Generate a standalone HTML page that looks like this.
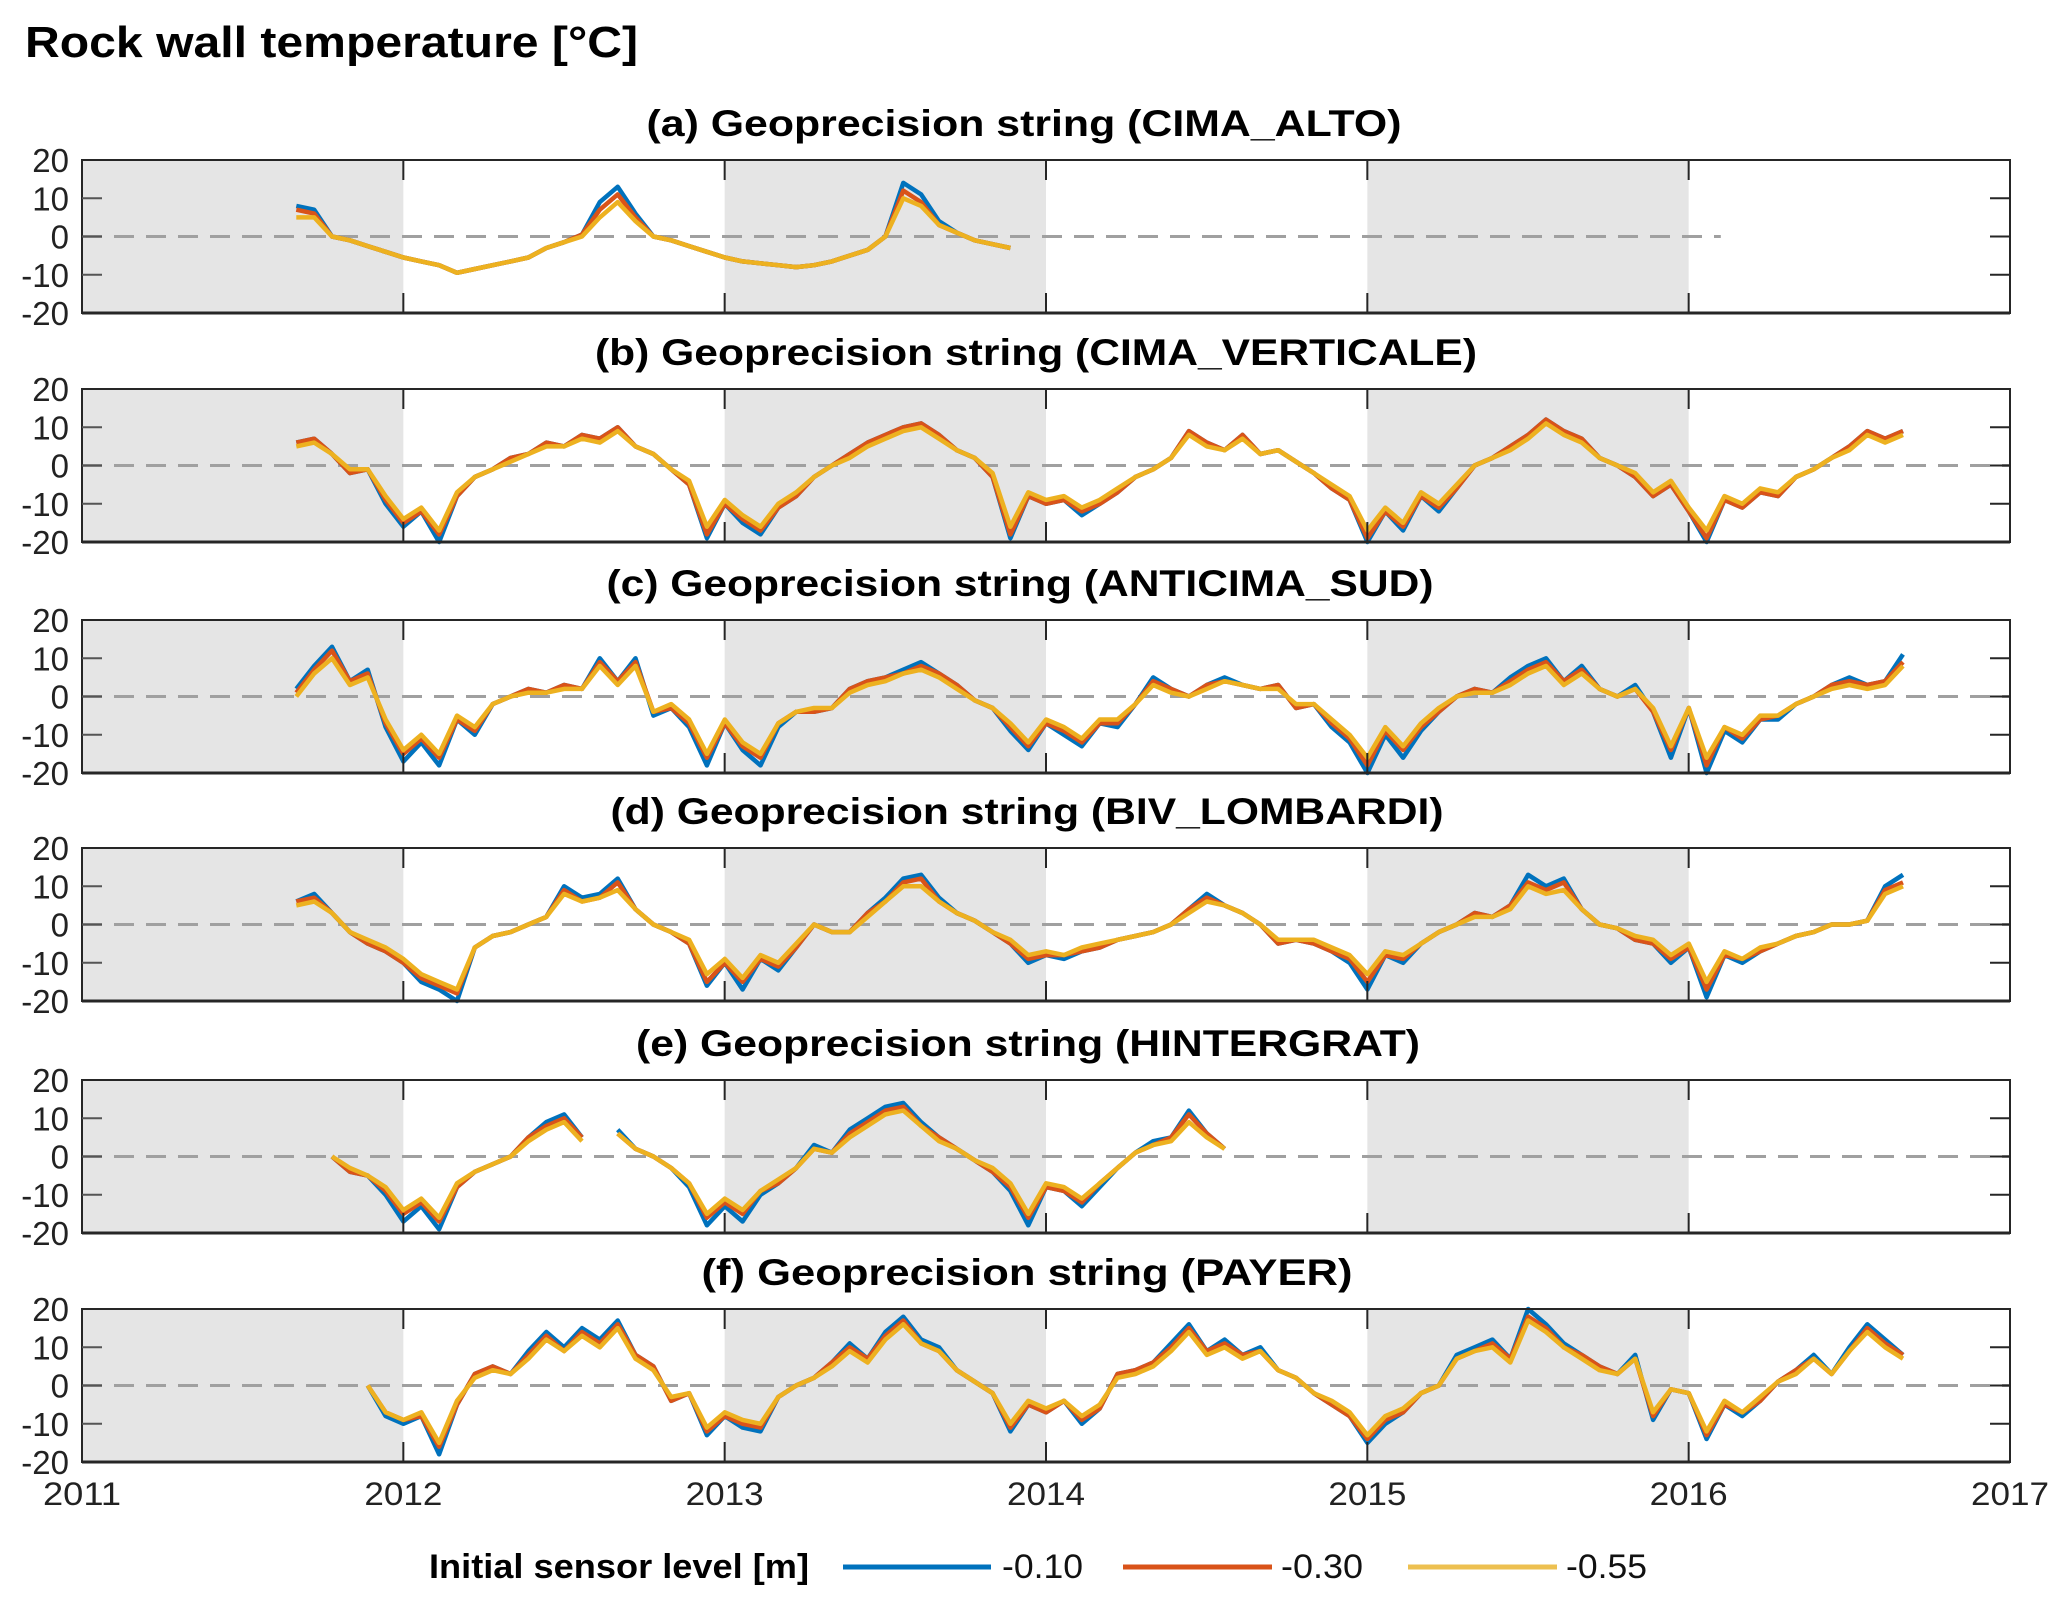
<!DOCTYPE html>
<html><head><meta charset="utf-8"><style>
html,body{margin:0;padding:0;background:#fff;}
svg{display:block;font-family:"Liberation Sans",Arial,sans-serif;}
</style></head><body>
<svg id="chart" width="2067" height="1599" viewBox="0 0 2067 1599" xmlns="http://www.w3.org/2000/svg">
<text x="25" y="57" font-size="44" font-weight="bold" textLength="613" lengthAdjust="spacingAndGlyphs" fill="#000">Rock wall temperature [°C]</text>
<g id="panels"></g>
<g id="xlabels"></g>
<g>
<text x="429" y="1578" font-size="34" font-weight="bold" textLength="380" lengthAdjust="spacingAndGlyphs">Initial sensor level [m]</text>
<line x1="843" y1="1567" x2="991" y2="1567" stroke="#0072BD" stroke-width="5"/>
<text x="1002" y="1578" font-size="34" textLength="81" lengthAdjust="spacingAndGlyphs" fill="#111">-0.10</text>
<line x1="1123" y1="1567" x2="1272" y2="1567" stroke="#D95319" stroke-width="5"/>
<text x="1281" y="1578" font-size="34" textLength="82" lengthAdjust="spacingAndGlyphs" fill="#111">-0.30</text>
<line x1="1408" y1="1567" x2="1557" y2="1567" stroke="#EDC050" stroke-width="5"/>
<text x="1566" y="1578" font-size="34" textLength="81" lengthAdjust="spacingAndGlyphs" fill="#111">-0.55</text>
</g>
</svg>
<script>
// ---- data (values in °C, sampled every 1/18 year starting 2011.667) ----
const xTickLabels = ["2011","2012","2013","2014","2015","2016","2017"];
const yTickLabels = ["20","10","0","-10","-20"];
const yTickValues = [20,10,0,-10,-20];
const panelTitles = ["(a) Geoprecision string (CIMA_ALTO)","(b) Geoprecision string (CIMA_VERTICALE)","(c) Geoprecision string (ANTICIMA_SUD)","(d) Geoprecision string (BIV_LOMBARDI)","(e) Geoprecision string (HINTERGRAT)","(f) Geoprecision string (PAYER)"];
const seriesStart = 2011.667;
const seriesStep = 1/18;

const a10 = [8,7,0,-1,-2.5,-4, -5.5,-6.5,-7.5,-9.5,-8.5,-7.5,-6.5,-5.5,-3,-1.5,0.5,9,13,6,0,-1,-2.5,-4, -5.5,-6.5,-7,-7.5,-8,-7.5,-6.5,-5,-3.5,0,14,11,4,1,-1,-2,-3];
const a30 = [7,6,0,-1,-2.5,-4, -5.5,-6.5,-7.5,-9.5,-8.5,-7.5,-6.5,-5.5,-3,-1.5,0.5,7,11,5,0,-1,-2.5,-4, -5.5,-6.5,-7,-7.5,-8,-7.5,-6.5,-5,-3.5,0,12,9,3,1,-1,-2,-3];
const a55 = [5,5,0,-1,-2.5,-4, -5.5,-6.5,-7.5,-9.5,-8.5,-7.5,-6.5,-5.5,-3,-1.5,0,5,9,4,0,-1,-2.5,-4, -5.5,-6.5,-7,-7.5,-8,-7.5,-6.5,-5,-3.5,0,10,8,3,1,-1,-2,-3];

const b10 = [6,7,3,-2,-1,-10,
 -16,-12,-20,-8,-3,-1,2,3,6,5,8,7,10,5,3,-1,-5,-19,
 -10,-15,-18,-11,-8,-3,0,3,6,8,10,11,8,4,2,-3,-19,-8,
 -10,-9,-13,-10,-7,-3,-1,2,9,6,4,8,3,4,1,-2,-6,-9,
 -20,-12,-17,-8,-12,-6,0,2,5,8,12,9,7,2,0,-3,-8,-5,
 -12,-20,-9,-11,-7,-8,-3,-1,2,5,9,7,9];
const b30 = [6,7,3,-2,-1,-9,
 -15,-12,-18,-8,-3,-1,2,3,6,5,8,7,10,5,3,-1,-5,-18,
 -10,-14,-17,-11,-8,-3,0,3,6,8,10,11,8,4,2,-3,-18,-8,
 -10,-9,-12,-10,-7,-3,-1,2,9,6,4,8,3,4,1,-2,-6,-9,
 -19,-12,-16,-8,-11,-6,0,2,5,8,12,9,7,2,0,-3,-8,-5,
 -12,-19,-9,-11,-7,-8,-3,-1,2,5,9,7,9];
const b55 = [5,6,3,-1,-1,-8,
 -14,-11,-17,-7,-3,-1,1,3,5,5,7,6,9,5,3,-1,-4,-16,
 -9,-13,-16,-10,-7,-3,0,2,5,7,9,10,7,4,2,-2,-16,-7,
 -9,-8,-11,-9,-6,-3,-1,2,8,5,4,7,3,4,1,-2,-5,-8,
 -17,-11,-15,-7,-10,-5,0,2,4,7,11,8,6,2,0,-2,-7,-4,
 -11,-17,-8,-10,-6,-7,-3,-1,2,4,8,6,8];

const c10 = [2,8,13,4,7,-8,
 -17,-12,-18,-6,-10,-2,0,2,1,3,2,10,4,10,-5,-3,-8,-18,
 -7,-14,-18,-8,-4,-4,-3,2,4,5,7,9,6,3,-1,-3,-9,-14,
 -7,-10,-13,-7,-8,-2,5,2,0,3,5,3,2,3,-3,-2,-8,-12,
 -20,-10,-16,-9,-4,0,2,1,5,8,10,4,8,2,0,3,-4,-16,
 -3,-20,-9,-12,-6,-6,-2,0,3,5,3,4,11];
const c30 = [1,7,12,4,6,-7,
 -15,-11,-16,-6,-9,-2,0,2,1,3,2,9,4,9,-4,-3,-7,-16,
 -7,-13,-16,-7,-4,-4,-3,2,4,5,6,8,6,3,-1,-3,-8,-13,
 -7,-9,-12,-7,-7,-2,4,2,0,3,4,3,2,3,-3,-2,-7,-11,
 -18,-9,-14,-8,-4,0,2,1,4,7,9,4,7,2,0,2,-4,-14,
 -3,-18,-8,-11,-6,-5,-2,0,3,4,3,4,9];
const c55 = [0,6,10,3,5,-6,
 -14,-10,-15,-5,-8,-2,0,1,1,2,2,8,3,8,-4,-2,-6,-15,
 -6,-12,-15,-7,-4,-3,-3,1,3,4,6,7,5,2,-1,-3,-7,-12,
 -6,-8,-11,-6,-6,-2,3,1,0,2,4,3,2,2,-2,-2,-6,-10,
 -16,-8,-13,-7,-3,0,1,1,3,6,8,3,6,2,0,2,-3,-13,
 -3,-16,-8,-10,-5,-5,-2,0,2,3,2,3,8];

const d10 = [6,8,3,-2,-5,-7,
 -10,-15,-17,-20,-6,-3,-2,0,2,10,7,8,12,4,0,-2,-5,-16,
 -10,-17,-9,-12,-6,0,-2,-2,3,7,12,13,7,3,1,-2,-5,-10,
 -8,-9,-7,-6,-4,-3,-2,0,4,8,5,3,0,-5,-4,-5,-7,-10,
 -17,-8,-10,-5,-2,0,3,2,5,13,10,12,4,0,-1,-4,-5,-10,
 -6,-19,-8,-10,-7,-5,-3,-2,0,0,1,10,13];
const d30 = [6,7,3,-2,-5,-7,
 -10,-14,-16,-18,-6,-3,-2,0,2,9,6,7,11,4,0,-2,-5,-15,
 -10,-15,-9,-11,-6,0,-2,-2,3,6,11,12,6,3,1,-2,-5,-9,
 -8,-8,-7,-6,-4,-3,-2,0,4,7,5,3,0,-5,-4,-5,-7,-9,
 -15,-8,-9,-5,-2,0,3,2,5,11,9,11,4,0,-1,-4,-5,-9,
 -6,-17,-8,-9,-7,-5,-3,-2,0,0,1,9,11];
const d55 = [5,6,3,-2,-4,-6,
 -9,-13,-15,-17,-6,-3,-2,0,2,8,6,7,9,4,0,-2,-4,-13,
 -9,-14,-8,-10,-5,0,-2,-2,2,6,10,10,6,3,1,-2,-4,-8,
 -7,-8,-6,-5,-4,-3,-2,0,3,6,5,3,0,-4,-4,-4,-6,-8,
 -13,-7,-8,-5,-2,0,2,2,4,10,8,9,4,0,-1,-3,-4,-8,
 -5,-15,-7,-9,-6,-5,-3,-2,0,0,1,8,10];

const e10 = [null,null,0,-4,-5,-10,
 -17,-13,-19,-8,-4,-2,0,5,9,11,5,null,7,2,0,-3,-8,-18,
 -13,-17,-10,-7,-3,3,1,7,10,13,14,9,5,2,-1,-4,-9,-18,
 -8,-9,-13,-8,-3,1,4,5,12,6,2];
const e30 = [null,null,0,-4,-5,-9,
 -15,-12,-17,-8,-4,-2,0,5,8,10,5,null,6,2,0,-3,-7,-16,
 -12,-15,-9,-7,-3,2,1,6,9,12,13,8,5,2,-1,-4,-8,-16,
 -8,-9,-12,-7,-3,1,3,5,11,6,2];
const e55 = [null,null,0,-3,-5,-8,
 -14,-11,-16,-7,-4,-2,0,4,7,9,4,null,6,2,0,-3,-7,-15,
 -11,-14,-9,-6,-3,2,1,5,8,11,12,8,4,2,-1,-3,-7,-15,
 -7,-8,-11,-7,-3,1,3,4,9,5,2];

const f10 = [null,null,null,null,0,-8,
 -10,-8,-18,-5,3,5,3,9,14,10,15,12,17,8,5,-4,-2,-13,
 -8,-11,-12,-3,0,2,6,11,7,14,18,12,10,4,1,-2,-12,-5,
 -7,-4,-10,-6,3,4,6,11,16,9,12,8,10,4,2,-2,-5,-8,
 -15,-10,-7,-2,0,8,10,12,7,20,16,11,8,5,3,8,-9,-1,
 -2,-14,-5,-8,-4,1,4,8,3,10,16,12,8];
const f30 = [null,null,null,null,0,-7,
 -9,-8,-16,-5,3,5,3,8,13,9,14,11,16,8,5,-4,-2,-12,
 -8,-10,-11,-3,0,2,6,10,7,13,17,11,9,4,1,-2,-11,-5,
 -7,-4,-9,-6,3,4,6,10,15,9,11,8,9,4,2,-2,-5,-8,
 -14,-9,-7,-2,0,7,9,11,7,18,15,10,8,5,3,7,-8,-1,
 -2,-13,-5,-7,-4,1,4,7,3,9,15,11,8];
const f55 = [null,null,null,null,0,-7,
 -9,-7,-15,-4,2,4,3,7,12,9,13,10,15,7,4,-3,-2,-11,
 -7,-9,-10,-3,0,2,5,9,6,12,16,11,9,4,1,-2,-10,-4,
 -6,-4,-8,-5,2,3,5,9,14,8,10,7,9,4,2,-2,-4,-7,
 -13,-8,-6,-2,0,7,9,10,6,17,14,10,7,4,3,7,-7,-1,
 -2,-12,-4,-7,-3,1,3,7,3,9,14,10,7];

const panelSeries = [[a10,a30,a55],[b10,b30,b55],[c10,c30,c55],[d10,d30,d55],[e10,e30,e55],[f10,f30,f55]];
const zeroLineEnd = [2016.1,2017,2017,2017,2017,2017];

// ---- layout ----
const NS = "http://www.w3.org/2000/svg";
const X0 = 82, X1 = 2010, YEAR0 = 2011, YEAR1 = 2017;
const panelTops = [160,389,620,848,1080,1309];
const PH = 153;
const titleX = [1024,1036,1020,1027,1028,1027];
const titleW = [755,882,827,833,784,651];
const colors = ["#0072BD","#D95319","#EDB120"];
const sNames = ["series-010","series-030","series-055"];
const xScale = t => X0 + (t - YEAR0) / (YEAR1 - YEAR0) * (X1 - X0);
function yScaleFor(top){ return v => top + (20 - v) / 40 * PH; }
function mk(tag, attrs, parent){ const e = document.createElementNS(NS, tag); for (const k in attrs) e.setAttribute(k, attrs[k]); parent.appendChild(e); return e; }

const root = document.getElementById("panels");
panelTops.forEach((top, p) => {
  const y = yScaleFor(top);
  const g = mk("g", {}, root);
  
  
  [2011,2013,2015].forEach(yr => {
    const r = mk("rect", {x: xScale(yr), y: top, width: xScale(yr+1) - xScale(yr), height: PH, fill: "#e5e5e5"}, g);
    
    
  });
  const zl = mk("line", {x1: X0, x2: xScale(zeroLineEnd[p]), y1: y(0), y2: y(0), stroke: "#a0a0a0", "stroke-width": 3, "stroke-dasharray": "20 12"}, g);
  
  
  panelSeries[p].forEach((arr, s) => {
    let d = "", pen = false;
    arr.forEach((v, i) => {
      if (v === null) { pen = false; return; }
      const px = xScale(seriesStart + i * seriesStep), py = y(v);
      d += (pen ? "L" : "M") + px.toFixed(1) + " " + py.toFixed(1);
      pen = true;
    });
    const path = mk("path", {d: d, fill: "none", stroke: colors[s], "stroke-width": 4.5, "stroke-linejoin": "round"}, g);
    
    
  });
  const fr = mk("rect", {x: X0, y: top, width: X1 - X0, height: PH, fill: "none", stroke: "#262626", "stroke-width": 2}, g);
  
  
  mk("line", {x1: X0, x2: X1, y1: top + PH, y2: top + PH, stroke: "#262626", "stroke-width": 3}, g);
  for (let yr = YEAR0 + 1; yr < YEAR1; yr++) {
    const xx = xScale(yr);
    mk("line", {x1: xx, x2: xx, y1: top, y2: top + 20, stroke: "#262626", "stroke-width": 2}, g);
    mk("line", {x1: xx, x2: xx, y1: top + PH - 20, y2: top + PH, stroke: "#262626", "stroke-width": 2}, g);
  }
  yTickValues.forEach((v, k) => {
    if (v !== 20 && v !== -20) {
      mk("line", {x1: X0, x2: X0 + 20, y1: y(v), y2: y(v), stroke: "#555", "stroke-width": 2}, g);
      mk("line", {x1: X1 - 20, x2: X1, y1: y(v), y2: y(v), stroke: "#262626", "stroke-width": 2}, g);
    }
    const t = mk("text", {x: 69, y: y(v) + 12, "font-size": 33, "text-anchor": "end", fill: "#222"}, g);
    t.textContent = yTickLabels[k];
    
    
  });
  const tt = mk("text", {x: titleX[p], y: top - 24, "font-size": 37, "font-weight": "bold", "text-anchor": "middle", textLength: titleW[p], lengthAdjust: "spacingAndGlyphs"}, g);
  tt.textContent = panelTitles[p];
  
  
});

const xl = document.getElementById("xlabels");
xTickLabels.forEach((lab, i) => {
  const t = mk("text", {x: xScale(YEAR0 + i), y: 1505, "font-size": 32, "text-anchor": "middle", fill: "#222", textLength: 78, lengthAdjust: "spacingAndGlyphs"}, xl);
  t.textContent = lab;
  
  
});
</script>
</body></html>
